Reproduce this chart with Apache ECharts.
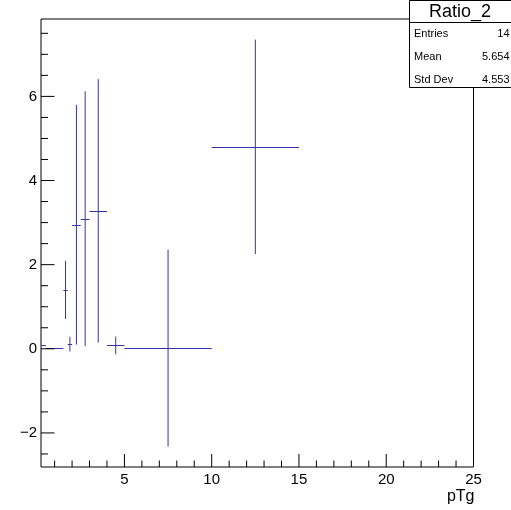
<!DOCTYPE html>
<html><head><meta charset="utf-8">
<script src="https://cdn.jsdelivr.net/npm/echarts@6/dist/echarts.min.js"></script>
<style>html,body{margin:0;padding:0;background:#fff}#c{width:511px;height:510px}</style>
</head><body><div id="c"></div>
<script>
// ---- data ----
const binLow  = [0.0, 0.5, 1.5, 1.75, 2.0, 2.5, 3.0, 4.0, 5.0, 10.0];
const binHigh = [0.5, 1.5, 1.75, 2.0, 2.5, 3.0, 4.0, 5.0, 10.0, 15.0];
const ratioValues = [0.09, 0.025, 1.40, 0.11, 2.95, 3.09, 3.28, 0.08, 0.015, 4.80];
const ratioErrors = [0.0, 0.0, 0.69, 0.175, 2.85, 3.03, 3.13, 0.21, 2.34, 2.55];
const xMajorTicks = [5, 10, 15, 20, 25];
const xTickLabels = ['5', '10', '15', '20', '25'];
const xMinorTicks = [1, 2, 3, 4, 6, 7, 8, 9, 11, 12, 13, 14, 16, 17, 18, 19, 21, 22, 23, 24];
const yMajorTicks = [-2, 0, 2, 4, 6];
const yTickLabels = ['\u22122', '0', '2', '4', '6'];
const yMinorTicks = [-2.5, -1.5, -1, -0.5, 0.5, 1, 1.5, 2.5, 3, 3.5, 4.5, 5, 5.5, 6.5, 7, 7.5];
const statsTitle = 'Ratio_2';
const statsNames = ['Entries', 'Mean', 'Std Dev'];
const statsValues = ['14', '5.654', '4.553'];
const xTitle = 'pTg';

const XMIN = 0.22, XMAX = 25, YMIN = -2.81, YMAX = 7.84;
const FONT = '"Liberation Sans", Arial, sans-serif';
const LINE_COLOR = '#3434a8';

const barData = binLow.map((lo, i) => [lo, binHigh[i], ratioValues[i], ratioErrors[i]]);
const xTickData = xMajorTicks.map((v, i) => [v, 1, i]).concat(xMinorTicks.map(v => [v, 0, -1]));
const yTickData = yMajorTicks.map((v, i) => [v, 1, i]).concat(yMinorTicks.map(v => [v, 0, -1]));

const chart = echarts.init(document.getElementById('c'), null, {renderer: 'canvas'});

const statsGraphics = [
  {type: 'rect', z: 100, shape: {x: 409.5, y: 0.5, width: 102, height: 87}, style: {fill: '#fff', stroke: '#000', lineWidth: 1}},
  {type: 'line', z: 101, shape: {x1: 409.5, y1: 22.5, x2: 511, y2: 22.5}, style: {stroke: '#000', lineWidth: 1}},
  {type: 'text', z: 101, x: 460, y: 12, style: {text: statsTitle, align: 'center', verticalAlign: 'middle', font: '18px ' + FONT, fill: '#000'}}
];
const rowY = [33.5, 57, 80];
statsNames.forEach((n, i) => {
  statsGraphics.push({type: 'text', z: 101, x: 414, y: rowY[i], style: {text: n, align: 'left', verticalAlign: 'middle', font: '11px ' + FONT, fill: '#000'}});
  statsGraphics.push({type: 'text', z: 101, x: 509.5, y: rowY[i], style: {text: statsValues[i], align: 'right', verticalAlign: 'middle', font: '11px ' + FONT, fill: '#000'}});
});

chart.setOption({
  animation: false,
  backgroundColor: '#fff',
  grid: {left: 41, top: 19, width: 432.5, height: 448, show: true, borderColor: '#000', borderWidth: 1, backgroundColor: 'transparent'},
  xAxis: {
    type: 'value', min: XMIN, max: XMAX,
    axisLine: {show: false, onZero: false}, axisTick: {show: false}, axisLabel: {show: false}, splitLine: {show: false},
    name: xTitle, nameLocation: 'end', nameGap: 1,
    nameTextStyle: {align: 'right', verticalAlign: 'top', padding: [22, 0, 0, 0], fontFamily: FONT, fontSize: 16, color: '#000'}
  },
  yAxis: {
    type: 'value', min: YMIN, max: YMAX,
    axisLine: {show: false, onZero: false}, axisTick: {show: false}, axisLabel: {show: false}, splitLine: {show: false}
  },
  graphic: statsGraphics,
  series: [
    {
      type: 'custom', name: 'Ratio_2', z: 2,
      data: barData,
      encode: {x: [0, 1], y: [2]},
      renderItem: function (params, api) {
        const lo = Math.max(api.value(0), XMIN), hi = api.value(1);
        const v = api.value(2), e = api.value(3);
        const c = (api.value(0) + api.value(1)) / 2;
        const pL = api.coord([lo, v]), pR = api.coord([hi, v]);
        const yh = Math.round(pL[1]) + 0.5;
        const children = [{type: 'line', shape: {x1: pL[0], y1: yh, x2: pR[0], y2: yh}, style: {stroke: LINE_COLOR, lineWidth: 1}}];
        if (e > 0) {
          const pT = api.coord([c, v + e]), pB = api.coord([c, v - e]);
          children.push({type: 'line', shape: {x1: pT[0], y1: pT[1], x2: pB[0], y2: pB[1]}, style: {stroke: LINE_COLOR, lineWidth: 1}});
        }
        return {type: 'group', children: children};
      }
    },
    {
      type: 'custom', name: 'xticks', z: 5, silent: true,
      data: xTickData,
      encode: {x: 0},
      renderItem: function (params, api) {
        const v = api.value(0), major = api.value(1), li = api.value(2);
        const p = api.coord([v, YMIN]);
        const len = major ? 13 : 6.5;
        const children = [{type: 'line', shape: {x1: p[0], y1: p[1], x2: p[0], y2: p[1] - len}, style: {stroke: '#000', lineWidth: 1}}];
        if (major) {
          children.push({type: 'text', x: p[0], y: p[1] + 5, style: {text: xTickLabels[li], align: 'center', verticalAlign: 'top', font: '15px ' + FONT, fill: '#000'}});
        }
        return {type: 'group', children: children};
      }
    },
    {
      type: 'custom', name: 'yticks', z: 5, silent: true,
      data: yTickData,
      encode: {y: 0},
      renderItem: function (params, api) {
        const v = api.value(0), major = api.value(1), li = api.value(2);
        const p = api.coord([XMIN, v]);
        const len = major ? 13.5 : 7;
        const children = [{type: 'line', shape: {x1: p[0], y1: p[1], x2: p[0] + len, y2: p[1]}, style: {stroke: '#000', lineWidth: 1}}];
        if (major) {
          children.push({type: 'text', x: p[0] - 4, y: p[1], style: {text: yTickLabels[li], align: 'right', verticalAlign: 'middle', font: '15px ' + FONT, fill: '#000'}});
        }
        return {type: 'group', children: children};
      }
    }
  ]
});
</script>
</body></html>
